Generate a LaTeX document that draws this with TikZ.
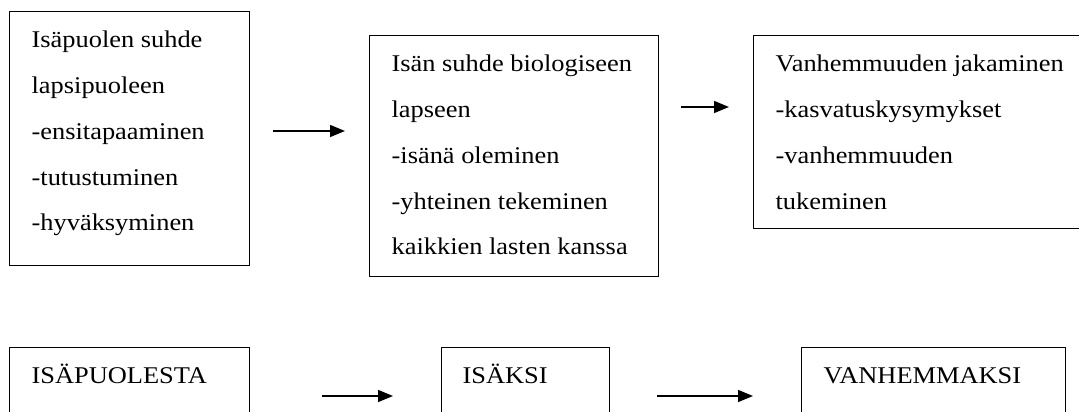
\documentclass[tikz,border=0pt]{standalone}
\usepackage{fontspec}
\setmainfont[FakeStretch=1.1]{Liberation Serif}
\usetikzlibrary{arrows.meta}
\newcommand{\boxcontent}[3]{\parbox[c][#2][t]{#1}{\raggedright\leftskip=22pt\relax\fontsize{24}{45.8}\selectfont\vspace*{4pt}\strut #3\par}}
\begin{document}
\begin{tikzpicture}[x=1pt,y=-1pt,
  bx/.style={draw, line width=1.3pt, inner sep=0pt, anchor=north west},
  arr/.style={line width=1.5pt, -{Triangle[length=15pt,width=12pt]}}]
\useasboundingbox (0,0) rectangle (1079,412);
\clip (0,0) rectangle (1079,412);
% top row
\node[bx] (b1) at (9,11) {\boxcontent{240pt}{254pt}{Isäpuolen suhde\\lapsipuoleen\\-ensitapaaminen\\-tutustuminen\\-hyväksyminen}};
\node[bx] (b2) at (369,35) {\boxcontent{289pt}{241pt}{Isän suhde biologiseen\\lapseen\\-isänä oleminen\\-yhteinen tekeminen\\kaikkien lasten kanssa}};
\node[bx] (b3) at (753,35) {\boxcontent{340pt}{193pt}{Vanhemmuuden jakaminen\\-kasvatuskysymykset\\-vanhemmuuden\\tukeminen}};
% bottom row
\node[bx] (b4) at (9,347) {\boxcontent{240pt}{90pt}{ISÄPUOLESTA}};
\node[bx] (b5) at (441,347) {\boxcontent{168pt}{90pt}{\hspace*{-1pt}ISÄKSI}};
\node[bx] (b6) at (801,347) {\boxcontent{264pt}{90pt}{VANHEMMAKSI}};
% arrow end points
\coordinate (a1s) at (273,131);
\coordinate (a1e) at (345,131);
\coordinate (a2s) at (681,107);
\coordinate (a2e) at (729,107);
\coordinate (a3s) at (322,396);
\coordinate (a3e) at (393,396);
\coordinate (a4s) at (657,396);
\coordinate (a4e) at (753,396);
\draw[arr] (a1s) -- (a1e);
\draw[arr] (a2s) -- (a2e);
\draw[arr] (a3s) -- (a3e);
\draw[arr] (a4s) -- (a4e);
\end{tikzpicture}
\end{document}
